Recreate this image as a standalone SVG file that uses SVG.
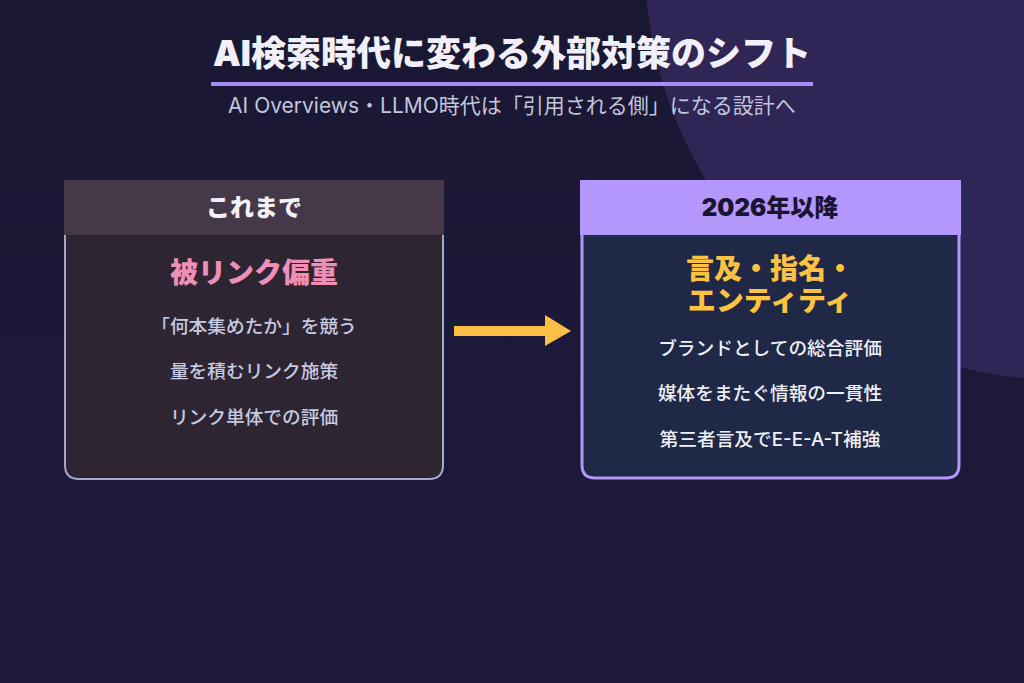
<svg xmlns="http://www.w3.org/2000/svg" width="1024" height="683" viewBox="0 0 1024 683">
  <defs>
    <linearGradient id="bg" x1="0" y1="0" x2="0" y2="1">
      <stop offset="0" stop-color="#1a1733"/>
      <stop offset="1" stop-color="#1f1a3d"/>
    </linearGradient>
    <style>
      .jp { font-family: Inter, "Noto Sans CJK JP", "Noto Sans", sans-serif; text-anchor: middle; }
      .title { font-size: 35px; font-weight: 900; fill: #f1f0fa; }
      .sub { font-size: 21px; font-weight: 400; fill: #c3c6de; }
      .head { font-size: 24px; font-weight: 900; }
      .main { font-size: 28px; font-weight: 900; }
      .item { font-size: 18.7px; font-weight: 500; }
    </style>
  </defs>
  <rect width="1024" height="683" fill="url(#bg)"/>
  <circle cx="1062" cy="-37" r="417" fill="#2f2656"/>

  <g id="title">
    <text class="jp title" x="512" y="66">AI検索時代に変わる外部対策のシフト</text>
    <rect x="211" y="82" width="602" height="4" fill="#a88bf5"/>
    <text class="jp sub" x="512" y="113">AI Overviews・LLMO時代は「引用される側」になる設計へ</text>
  </g>

  <g id="before">
    <path d="M65,235 V465 Q65,479 79,479 H429 Q443,479 443,465 V235" fill="#2e2533" stroke="#a3abc9" stroke-width="2"/>
    <rect x="64" y="180" width="380" height="55" fill="#453848"/>
    <text class="jp head" x="254" y="216" fill="#f3f1f8">これまで</text>
    <text class="jp main" x="254" y="283" fill="#ee8fb6">被リンク偏重</text>
    <text class="jp item" x="254" y="333" fill="#c6cae0">「何本集めたか」を競う</text>
    <text class="jp item" x="254" y="378" fill="#c6cae0">量を積むリンク施策</text>
    <text class="jp item" x="254" y="424" fill="#c6cae0">リンク単体での評価</text>
  </g>

  <g id="connectors">
    <path d="M454,326 H545 V315 L571,331 L545,346 V336 H454 Z" fill="#fbbf45"/>
  </g>

  <g id="after">
    <path d="M582,235 V465 Q582,478 595,478 H946 Q959,478 959,465 V235" fill="#1f2847" stroke="#b497fc" stroke-width="3"/>
    <rect x="580" y="180" width="381" height="55" fill="#b497fc"/>
    <text class="jp head" x="770" y="216" fill="#1a1433">2026年以降</text>
    <text class="jp main" x="770" y="279" fill="#fcc240">言及・指名・</text>
    <text class="jp main" x="770" y="311" fill="#fcc240">エンティティ</text>
    <text class="jp item" x="770" y="355" fill="#eef0f8">ブランドとしての総合評価</text>
    <text class="jp item" x="770" y="400" fill="#eef0f8">媒体をまたぐ情報の一貫性</text>
    <text class="jp item" x="770" y="446" fill="#eef0f8">第三者言及でE-E-A-T補強</text>
  </g>
</svg>
